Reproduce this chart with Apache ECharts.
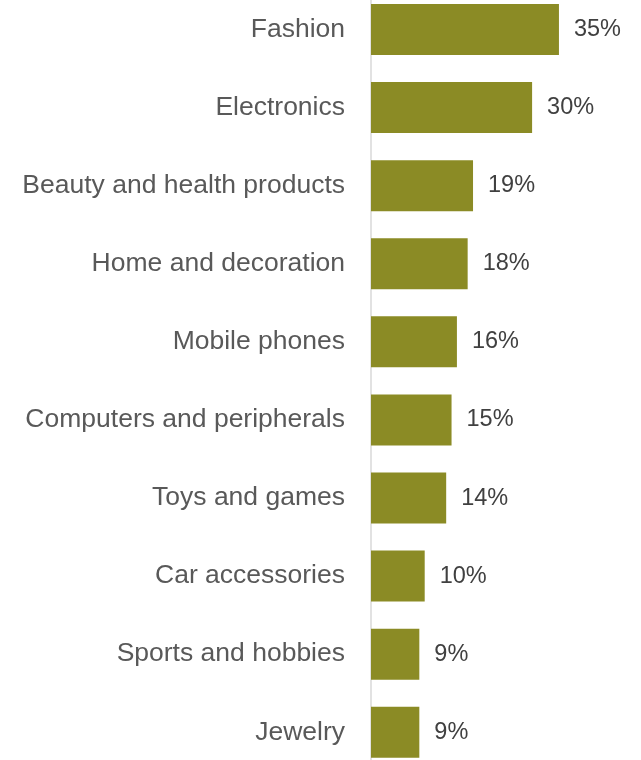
<!DOCTYPE html>
<html>
<head>
<meta charset="utf-8">
<script src="https://cdn.jsdelivr.net/npm/echarts@6/dist/echarts.min.js"></script>
<style>
  html, body { margin: 0; padding: 0; background: #fff; }
  #chart { width: 641px; height: 760px; }
</style>
</head>
<body>
<div id="chart"></div>
<script>
// Product categories, top to bottom
const categories = [
  'Fashion',
  'Electronics',
  'Beauty and health products',
  'Home and decoration',
  'Mobile phones',
  'Computers and peripherals',
  'Toys and games',
  'Car accessories',
  'Sports and hobbies',
  'Jewelry'
];
// Share of respondents (%)
const shares = [35, 30, 19, 18, 16, 15, 14, 10, 9, 9];

const chart = echarts.init(document.getElementById('chart'), null, { renderer: 'canvas' });

chart.setOption({
  animation: false,
  backgroundColor: '#ffffff',
  grid: {
    left: 371,
    top: -9.5,
    width: 214.8,
    height: 780.8,
    containLabel: false,
    outerBoundsMode: 'none'
  },
  xAxis: {
    type: 'value',
    min: 0,
    max: 40,
    show: false
  },
  yAxis: {
    type: 'category',
    data: categories,
    inverse: true,
    axisLine: { show: true, lineStyle: { color: '#d9d9d9', width: 1.5 } },
    axisTick: { show: false },
    axisLabel: {
      margin: 26,
      color: '#595959',
      fontFamily: 'Liberation Sans, Arial, sans-serif',
      fontSize: 26.5
    },
    splitLine: { show: false }
  },
  series: [{
    type: 'bar',
    data: shares,
    barWidth: 51,
    itemStyle: { color: '#8b8b25' },
    label: {
      show: true,
      position: 'right',
      distance: 15,
      formatter: p => p.value + '%',
      color: '#404040',
      fontFamily: 'Liberation Sans, Arial, sans-serif',
      fontSize: 23.5
    }
  }]
});
</script>
</body>
</html>
